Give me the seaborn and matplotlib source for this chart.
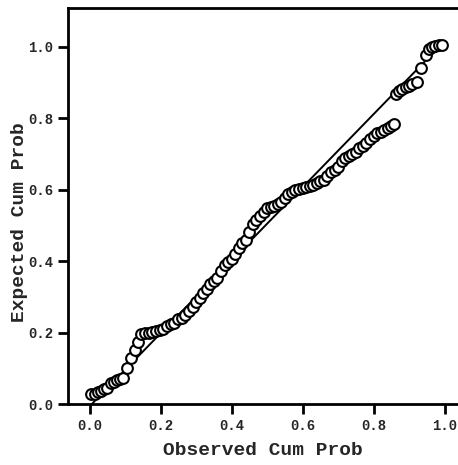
import numpy as np
import pandas as pd
import matplotlib
matplotlib.use("Agg")
import matplotlib.pyplot as plt
import seaborn as sns

# observed vs expected cumulative probability (P-P plot)
observed = [0.004, 0.013, 0.022, 0.031, 0.040, 0.049, 0.058, 0.067, 0.076, 0.085, 0.094,
            0.104, 0.116, 0.126, 0.136, 0.145, 0.155, 0.165, 0.175, 0.186, 0.197,
            0.207, 0.218, 0.228, 0.238, 0.249, 0.259, 0.269, 0.279, 0.289, 0.299,
            0.309, 0.319, 0.329, 0.339, 0.349, 0.359, 0.369, 0.379, 0.389, 0.399,
            0.409, 0.419, 0.429, 0.439, 0.449, 0.459, 0.469, 0.479, 0.489, 0.499,
            0.509, 0.519, 0.529, 0.539, 0.549, 0.559, 0.569, 0.579, 0.589, 0.599,
            0.609, 0.619, 0.629, 0.639, 0.649, 0.659, 0.669, 0.679, 0.689, 0.699,
            0.709, 0.719, 0.729, 0.739, 0.749, 0.759, 0.769, 0.779, 0.789, 0.799,
            0.809, 0.819, 0.829, 0.839, 0.849, 0.858,
            0.862, 0.871, 0.880, 0.889, 0.898, 0.908, 0.920, 0.932, 0.946, 0.955,
            0.964, 0.973, 0.983, 0.991]
expected = [0.027, 0.029, 0.033, 0.037, 0.041, 0.046, 0.058, 0.062, 0.066, 0.070, 0.074,
            0.100, 0.128, 0.150, 0.175, 0.195, 0.200, 0.200, 0.201, 0.205, 0.208,
            0.211, 0.218, 0.223, 0.228, 0.237, 0.242, 0.250, 0.260, 0.272, 0.285,
            0.297, 0.310, 0.322, 0.337, 0.344, 0.352, 0.372, 0.388, 0.398, 0.405,
            0.420, 0.437, 0.450, 0.460, 0.482, 0.505, 0.515, 0.525, 0.538, 0.548,
            0.551, 0.553, 0.560, 0.566, 0.575, 0.588, 0.594, 0.598, 0.601, 0.604,
            0.606, 0.609, 0.612, 0.618, 0.623, 0.628, 0.637, 0.648, 0.655, 0.662,
            0.680, 0.688, 0.695, 0.700, 0.705, 0.715, 0.723, 0.730, 0.740, 0.750,
            0.757, 0.762, 0.767, 0.772, 0.777, 0.783,
            0.868, 0.875, 0.881, 0.886, 0.890, 0.895, 0.900, 0.940, 0.975, 0.993,
            1.000, 1.002, 1.003, 1.004]

ref_x = [0.005, 0.955]
ref_y = [0.0, 0.97]

xticks = [0.0, 0.2, 0.4, 0.6, 0.8, 1.0]
yticks = [0.0, 0.2, 0.4, 0.6, 0.8, 1.0]

df = pd.DataFrame({"observed": observed, "expected": expected})
ref = pd.DataFrame({"x": ref_x, "y": ref_y})

sns.set_style("white")
plt.rcParams["font.family"] = ["Liberation Mono", "DejaVu Sans Mono"]
plt.rcParams["font.weight"] = "bold"

fig = plt.figure(figsize=(4.58, 4.65), dpi=100)
ax = fig.add_axes([0.1485, 0.131, 0.85, 0.852])

sns.lineplot(data=ref, x="x", y="y", ax=ax, color="black", lw=1.4)
sns.scatterplot(data=df, x="observed", y="expected", ax=ax, s=60,
                facecolor="white", edgecolor="black", linewidth=1.5, zorder=3)

ax.set_xlim(-0.062, 1.035)
ax.set_ylim(0.0, 1.108)
ax.set_xticks(xticks)
ax.set_yticks(yticks)
ax.set_xticklabels([f"{v:.1f}" for v in xticks], fontsize=10, fontweight="bold")
ax.set_yticklabels([f"{v:.1f}" for v in yticks], fontsize=10, fontweight="bold")
ax.tick_params(direction="out", length=7, width=2, color="black", pad=3.5,
               bottom=True, left=True)

ax.set_xlabel("Observed Cum Prob", fontsize=14, fontweight="bold", labelpad=7)
ax.set_ylabel("Expected Cum Prob", fontsize=14, fontweight="bold")
ax.yaxis.set_label_coords(-0.103, 0.46)

for side in ["left", "bottom", "top"]:
    ax.spines[side].set_color("black")
    ax.spines[side].set_linewidth(2)
ax.spines["right"].set_visible(False)

fig.savefig("out.png", dpi=100)
